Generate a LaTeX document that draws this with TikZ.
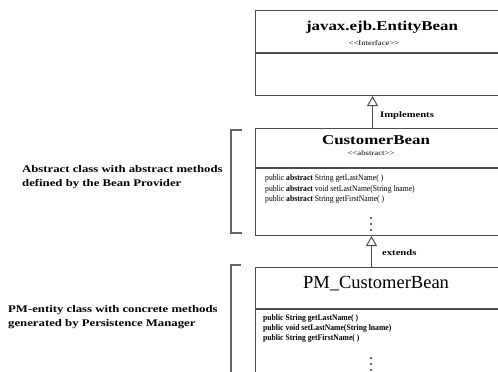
\documentclass[tikz,border=0pt]{standalone}
\usepackage{fontspec}
\setmainfont{Liberation Serif}
\newfontfamily\widefont[FakeStretch=1.25]{Liberation Serif}
\newfontfamily\narrowfont[FakeStretch=0.9]{Liberation Serif}
\usetikzlibrary{arrows.meta,positioning}

\tikzset{
  classbox/.style={draw=black!70, line width=1pt, minimum width=250pt, inner sep=0pt, anchor=north west},
  classname/.style={inner sep=0pt, font=\widefont\bfseries\fontsize{13.5}{15}\selectfont},
  stereo/.style={inner sep=0pt, font=\widefont\fontsize{7}{8}\selectfont},
  method/.style={anchor=west, inner sep=0pt, font=\narrowfont\fontsize{8.5}{10.5}\selectfont},
  note/.style={anchor=west, align=left, inner sep=0pt, font=\widefont\bfseries\fontsize{10.2}{14}\selectfont},
  rel/.style={draw=black!70, line width=1pt, -{Triangle[open, width=11pt, length=10pt]}},
  rellabel/.style={anchor=west, inner sep=0pt, font=\widefont\bfseries\fontsize{8.5}{10}\selectfont},
  bracket/.style={draw=black!60, line width=1.2pt},
  dot/.style={circle, fill=black!80, inner sep=0pt, minimum size=2.3pt}
}

\begin{document}
\begin{tikzpicture}[x=1pt, y=-1pt]
\clip (0,0) rectangle (498,372);

% interface
\node[classbox, minimum height=42pt] (entityhead) at (255,10) {};
\node[classbox, minimum height=42pt] (entitybody) at (entityhead.south west) {};
\node[classname] (entityname) at (382,27) {javax.ejb.EntityBean};
\node[stereo] (entitystereo) at (374,43) {<{}<Interface>{}>};

% abstract bean
\node[classbox, minimum height=39pt] (custhead) at (255,128) {};
\node[classbox, minimum height=67pt] (custbody) at (custhead.south west) {};
\node[classname] (custname) at (376,140) {CustomerBean};
\node[stereo] (custstereo) at (371,153) {<{}<abstract>{}>};
\node[method] (cm1) at (265,178.5) {public \textbf{abstract} String getLastName( )};
\node[method] (cm2) at (265,189) {public \textbf{abstract} void setLastName(String lname)};
\node[method] (cm3) at (265,199.5) {public \textbf{abstract} String getFirstName( )};
\foreach \y in {218,224,230}
  \node[dot] (cdot\y) at (371,\y) {};

% generated bean
\node[classbox, minimum height=41pt] (pmhead) at (255,267) {};
\node[classbox, minimum height=92pt] (pmbody) at (pmhead.south west) {};
\node[inner sep=0pt, font=\fontsize{18.5}{20}\selectfont] (pmname) at (376,284) {PM\_CustomerBean};
\node[method, font=\narrowfont\bfseries\fontsize{8.5}{10.5}\selectfont] (pm1) at (263,318) {public String getLastName( )};
\node[method, font=\narrowfont\bfseries\fontsize{8.5}{10.5}\selectfont] (pm2) at (263,328) {public void setLastName(String lname)};
\node[method, font=\narrowfont\bfseries\fontsize{8.5}{10.5}\selectfont] (pm3) at (263,338) {public String getFirstName( )};
\foreach \y in {358,364,370}
  \node[dot] (pdot\y) at (371,\y) {};

% relations
\draw[rel] ([xshift=-8pt]custhead.north) -- ([xshift=-8pt]entitybody.south);
\node[rellabel] (impl) at (380,115) {Implements};
\draw[rel] ([xshift=-9pt]pmhead.north) -- ([xshift=-9pt]custbody.south);
\node[rellabel] (ext) at (382,253) {extends};

% notes
\node[note] (abstractnote) at (22,177) {Abstract class with abstract methods\\defined by the Bean Provider};
\draw[bracket] (242,130) -- (231,130) -- (231,233) -- (242,233);
\node[note] (pmnote) at (8,317) {PM-entity class with concrete methods\\generated by Persistence Manager};
\draw[bracket] (241,265) -- (231,265) -- (231,380);
\end{tikzpicture}
\end{document}
